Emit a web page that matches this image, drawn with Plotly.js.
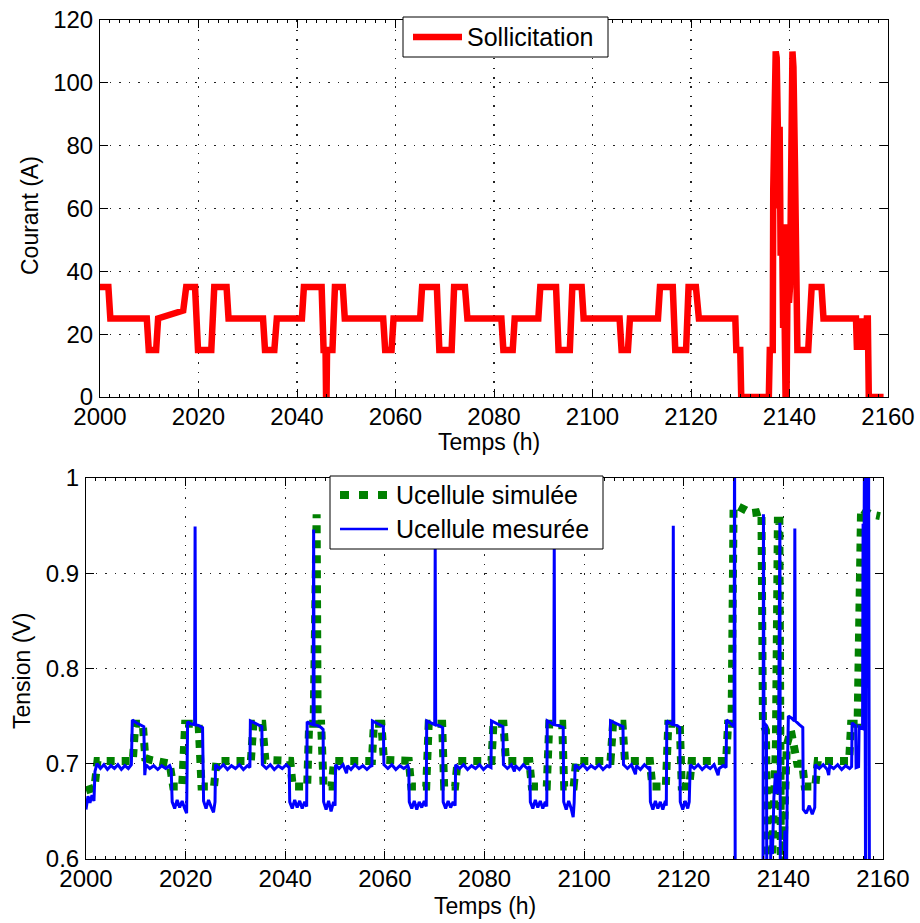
<!DOCTYPE html>
<html>
<head>
<meta charset="utf-8">
<script src="https://cdn.plot.ly/plotly-3.0.1.min.js"></script>
<style>html,body{margin:0;padding:0;background:#fff;}#chart{width:920px;height:923px;}</style>
</head>
<body>
<div id="chart"></div>
<script>
// ---------- Data ----------
// Top: current solicitation (A) vs time (h)
const curT = [2000,2001.7,2002.1,2009.5,2009.9,2011.4,2011.8,2016.9,2017.5,2019.3,2019.9,2022.6,2023.2,2025.7,2026.1,2033.1,2033.5,2035.4,2035.9,2041.0,2041.4,2045.0,2045.4,2045.8,2045.9,2046.0,2046.1,2047.2,2047.7,2049.3,2049.7,2057.5,2057.9,2059.2,2059.6,2065.0,2065.4,2068.4,2068.9,2071.4,2071.9,2074.1,2074.6,2081.5,2081.9,2083.8,2084.2,2089.0,2089.4,2092.6,2093.1,2095.4,2095.9,2097.8,2098.2,2105.5,2105.9,2107.2,2107.6,2113.3,2113.7,2116.3,2116.8,2119.0,2119.5,2121.0,2121.6,2129.0,2129.2,2130.0,2130.2,2135.8,2136.0,2136.6,2136.7,2137.2,2137.4,2137.9,2138.0,2138.2,2138.5,2138.7,2138.9,2139.2,2139.4,2139.7,2139.9,2140.1,2140.3,2140.6,2140.8,2141.1,2141.4,2141.6,2143.8,2144.0,2144.2,2144.5,2146.5,2146.9,2153.5,2153.7,2154.0,2154.2,2154.5,2154.7,2155.1,2155.3,2155.7,2155.9,2156.1,2159.1];
const curA = [35,35,25,25,15,15,25,27.5,35,35,15,15,35,35,25,25,15,15,25,25,35,35,15,15,0,0,15,15,35,35,25,25,15,15,25,25,35,35,15,15,35,35,25,25,15,15,25,25,35,35,15,15,35,35,25,25,15,15,25,25,35,35,15,15,35,35,25,25,15,15,0,0,15,15,66,110,108,60,86,45,55,22,40,0,0,55,30,35,66,110,105,75,40,15,15,25,26,35,35,25,25,15,25,15,25,15,25,15,25,25,0,0];

// Bottom: simulated cell voltage (V)
const simT = [2000.0,2001.7,2002.3,2009.4,2009.9,2011.4,2011.9,2013.0,2016.8,2017.5,2019.3,2019.9,2022.6,2023.2,2025.7,2026.2,2033.1,2033.6,2035.4,2036.0,2041.0,2041.5,2044.4,2044.8,2045.7,2045.9,2046.3,2046.5,2047.2,2047.7,2049.3,2049.8,2057.4,2057.8,2059.3,2059.8,2064.8,2065.3,2068.3,2068.8,2071.5,2071.9,2074.1,2074.6,2081.4,2081.8,2083.8,2084.3,2089.0,2089.5,2092.5,2093.0,2095.6,2096.0,2097.9,2098.4,2105.3,2105.8,2107.7,2108.2,2113.2,2113.7,2116.4,2116.9,2119.2,2119.6,2121.1,2121.6,2128.5,2128.9,2129.6,2130.0,2131.0,2132.5,2133.5,2135.0,2135.6,2135.9,2136.5,2136.9,2137.6,2138.0,2138.5,2138.9,2139.2,2139.5,2139.9,2140.3,2140.7,2141.5,2142.2,2142.8,2143.8,2144.3,2146.4,2146.9,2153.2,2153.6,2154.9,2155.6,2156.5,2157.5,2159.4];
const simV = [0.672,0.675,0.703,0.703,0.742,0.742,0.706,0.704,0.700,0.676,0.676,0.742,0.742,0.676,0.676,0.703,0.703,0.742,0.742,0.704,0.703,0.676,0.676,0.742,0.742,0.962,0.962,0.742,0.742,0.676,0.676,0.703,0.703,0.742,0.742,0.704,0.703,0.676,0.676,0.742,0.742,0.676,0.676,0.703,0.703,0.742,0.742,0.703,0.703,0.676,0.676,0.742,0.742,0.676,0.676,0.703,0.703,0.742,0.742,0.703,0.703,0.676,0.676,0.742,0.742,0.676,0.676,0.703,0.703,0.742,0.742,0.968,0.970,0.966,0.963,0.964,0.965,0.742,0.735,0.580,0.580,0.640,0.720,0.955,0.955,0.600,0.580,0.660,0.720,0.735,0.720,0.700,0.700,0.676,0.676,0.703,0.703,0.742,0.742,0.968,0.965,0.962,0.960];

// Bottom: measured cell voltage (V)
const mesT = [2000.0,2000.4,2000.8,2001.2,2001.6,2001.8,2002.2,2002.9,2003.6,2004.3,2005.0,2005.7,2006.4,2007.1,2007.8,2008.5,2009.1,2009.3,2010.1,2010.9,2011.6,2011.8,2012.0,2012.8,2013.6,2014.4,2015.2,2016.0,2016.8,2017.1,2017.3,2017.8,2018.3,2018.8,2019.3,2019.8,2020.2,2020.4,2021.0,2021.8,2021.9,2022.0,2022.7,2023.4,2023.6,2024.1,2024.6,2025.1,2025.6,2025.9,2026.0,2026.8,2027.6,2028.4,2029.2,2030.0,2030.8,2031.6,2032.4,2032.9,2033.0,2033.8,2034.6,2035.3,2035.4,2036.2,2037.0,2037.8,2038.6,2039.4,2040.2,2040.8,2040.9,2041.4,2041.9,2042.4,2042.9,2043.4,2043.9,2044.3,2044.4,2045.0,2045.6,2045.7,2045.8,2046.5,2047.2,2047.6,2047.7,2048.2,2048.7,2049.2,2049.7,2050.0,2050.1,2050.8,2051.6,2052.3,2052.5,2053.2,2054.0,2054.8,2055.6,2056.4,2057.2,2057.4,2057.5,2058.3,2059.1,2059.7,2059.8,2060.6,2061.4,2062.2,2063.0,2063.8,2064.6,2064.8,2064.9,2065.4,2065.9,2066.4,2066.9,2067.4,2067.9,2068.3,2068.4,2069.2,2070.0,2070.1,2070.2,2070.9,2071.6,2071.7,2072.2,2072.7,2073.2,2073.7,2074.1,2074.2,2075.0,2075.8,2076.6,2077.4,2078.2,2079.0,2079.8,2080.6,2081.3,2081.4,2082.2,2083.0,2083.7,2083.8,2084.6,2085.4,2086.0,2086.2,2087.0,2087.8,2088.6,2089.1,2089.2,2089.7,2090.2,2090.7,2091.2,2091.7,2092.2,2092.5,2092.6,2093.3,2093.9,2094.0,2094.1,2094.9,2095.8,2095.9,2096.4,2096.9,2097.4,2097.8,2098.0,2098.2,2099.0,2099.8,2100.6,2101.4,2102.2,2103.0,2103.8,2104.6,2105.2,2105.3,2106.1,2106.9,2107.8,2107.9,2108.7,2109.5,2110.3,2110.5,2111.3,2112.1,2112.9,2113.2,2113.3,2113.8,2114.3,2114.8,2115.3,2115.8,2116.3,2116.5,2116.6,2117.2,2117.8,2117.9,2118.0,2118.7,2119.2,2119.3,2119.8,2120.3,2120.8,2121.1,2121.3,2122.1,2122.9,2123.7,2124.5,2125.3,2126.1,2126.9,2127.1,2127.9,2128.5,2128.6,2129.4,2130.1,2130.2,2130.35,2135.9,2136.0,2136.1,2136.6,2136.7,2137.3,2137.5,2137.8,2138.1,2138.4,2138.7,2139.0,2139.3,2139.4,2140.0,2140.3,2140.5,2140.8,2141.0,2141.6,2142.2,2142.3,2142.4,2143.2,2143.9,2144.0,2144.6,2145.2,2145.8,2146.3,2146.4,2147.2,2148.0,2148.8,2149.1,2149.3,2150.1,2150.9,2151.7,2152.5,2153.3,2153.7,2153.8,2154.5,2154.6,2155.1,2155.2,2155.9,2156.0,2156.1,2156.3,2156.5,2156.7,2156.9,2157.1,2157.3];
const mesV = [0.652,0.666,0.659,0.667,0.661,0.692,0.700,0.695,0.699,0.694,0.698,0.695,0.699,0.694,0.698,0.695,0.699,0.746,0.743,0.741,0.739,0.688,0.699,0.695,0.698,0.694,0.698,0.695,0.698,0.694,0.660,0.653,0.662,0.654,0.661,0.653,0.648,0.744,0.742,0.741,0.949,0.741,0.740,0.738,0.661,0.653,0.662,0.655,0.649,0.660,0.699,0.695,0.699,0.694,0.698,0.695,0.699,0.694,0.698,0.696,0.745,0.743,0.741,0.739,0.699,0.695,0.699,0.694,0.698,0.695,0.699,0.696,0.660,0.653,0.662,0.654,0.661,0.653,0.660,0.655,0.744,0.742,0.741,0.946,0.741,0.740,0.738,0.736,0.660,0.652,0.661,0.650,0.660,0.656,0.699,0.695,0.699,0.690,0.698,0.694,0.699,0.695,0.698,0.694,0.698,0.697,0.745,0.743,0.741,0.739,0.699,0.695,0.699,0.694,0.698,0.695,0.698,0.695,0.660,0.653,0.661,0.652,0.660,0.654,0.661,0.655,0.745,0.743,0.741,0.928,0.741,0.740,0.738,0.660,0.653,0.661,0.654,0.660,0.656,0.699,0.695,0.699,0.694,0.698,0.695,0.699,0.694,0.698,0.696,0.745,0.743,0.741,0.739,0.699,0.695,0.699,0.692,0.698,0.694,0.699,0.695,0.697,0.660,0.653,0.662,0.654,0.661,0.653,0.660,0.655,0.745,0.743,0.741,0.928,0.741,0.740,0.738,0.660,0.652,0.661,0.653,0.644,0.659,0.699,0.695,0.699,0.694,0.698,0.695,0.699,0.694,0.698,0.696,0.745,0.743,0.741,0.739,0.699,0.695,0.699,0.689,0.698,0.694,0.699,0.695,0.697,0.660,0.652,0.661,0.653,0.660,0.652,0.661,0.656,0.745,0.743,0.741,0.950,0.741,0.740,0.738,0.660,0.652,0.661,0.653,0.660,0.699,0.695,0.699,0.694,0.698,0.695,0.699,0.688,0.695,0.698,0.696,0.746,0.742,0.739,1.050,0.500,0.500,0.962,0.743,0.740,0.500,0.500,0.625,0.605,0.665,0.690,0.668,0.692,0.953,0.500,0.500,0.630,0.500,0.690,0.750,0.748,0.745,0.947,0.745,0.741,0.738,0.652,0.648,0.656,0.647,0.654,0.699,0.695,0.699,0.694,0.688,0.698,0.695,0.699,0.694,0.698,0.695,0.697,0.743,0.740,0.696,0.697,0.739,0.737,0.952,0.820,1.050,0.550,1.050,0.850,1.050,0.500];

// Axes ticks / labels
const xTicks = [2000,2020,2040,2060,2080,2100,2120,2140,2160];
const yTicksTop = [0,20,40,60,80,100,120];
const yTicksBot = [0.6,0.7,0.8,0.9,1];
const yTickTextBot = ['0.6','0.7','0.8','0.9','1'];
const xTitle = 'Temps (h)';
const yTitleTop = 'Courant (A)';
const yTitleBot = 'Tension (V)';
const names = ['Sollicitation','Ucellule simulée','Ucellule mesurée'];

// ---------- Plot ----------
const W = 920, H = 923;
const FONT = 'Liberation Sans, Arial, Helvetica, sans-serif';
const FS = 24;   // tick labels
const TS = 23;   // axis titles
const LS = 25;   // legend text
const px = v => v / W;
const py = v => 1 - v / H;
const RED = '#ff0000', GREEN = '#008000', BLUE = '#0000ff';

const traces = [
  {x: curT, y: curA, xaxis:'x', yaxis:'y', mode:'lines', name:names[0],
   line:{color:RED, width:6.5}},
  {x: simT, y: simV, xaxis:'x2', yaxis:'y2', mode:'lines', name:names[1],
   line:{color:GREEN, width:8, dash:'8px,7px'}},
  {x: mesT, y: mesV, xaxis:'x2', yaxis:'y2', mode:'lines', name:names[2],
   line:{color:BLUE, width:3}}
];

function axisCommon(){
  return {
    showline:true, linecolor:'#000', linewidth:1, mirror:'ticks',
    ticks:'inside', ticklen:8, tickwidth:1, tickcolor:'#000',
    showgrid:true, gridcolor:'#222', gridwidth:1.2, griddash:'1.5px,8px',
    zeroline:false, tickfont:{family:FONT, size:FS, color:'#000'},
    fixedrange:true
  };
}
const xMinor = {ticks:'inside', ticklen:3, tickcolor:'#000', dtick:2, showgrid:false};

const titleFont = {family:FONT, size:TS, color:'#000'};
const legFont = {family:FONT, size:LS, color:'#000'};

// Legend boxes drawn in page pixels (converted to paper fractions)
const shapes = [
  {type:'rect', xref:'paper', yref:'paper', x0:px(403), x1:px(608), y0:py(57), y1:py(17),
   fillcolor:'#fff', line:{color:'#000', width:1}, layer:'above'},
  {type:'line', xref:'paper', yref:'paper', x0:px(413), x1:px(462), y0:py(37), y1:py(37),
   line:{color:RED, width:6.5}, layer:'above'},
  {type:'rect', xref:'paper', yref:'paper', x0:px(330), x1:px(603), y0:py(549), y1:py(476),
   fillcolor:'#fff', line:{color:'#000', width:1}, layer:'above'},
  {type:'line', xref:'paper', yref:'paper', x0:px(340), x1:px(388), y0:py(495), y1:py(495),
   line:{color:GREEN, width:8, dash:'9px,10px'}, layer:'above'},
  {type:'line', xref:'paper', yref:'paper', x0:px(340), x1:px(388), y0:py(529), y1:py(529),
   line:{color:BLUE, width:2.3}, layer:'above'}
];

const annotations = [
  {text:xTitle, xref:'paper', yref:'paper', x:px(489), y:py(442), xanchor:'center', yanchor:'middle', showarrow:false, font:titleFont},
  {text:yTitleTop, xref:'paper', yref:'paper', x:px(30), y:py(216), xanchor:'center', yanchor:'middle', textangle:-90, showarrow:false, font:titleFont},
  {text:xTitle, xref:'paper', yref:'paper', x:px(485), y:py(906), xanchor:'center', yanchor:'middle', showarrow:false, font:titleFont},
  {text:yTitleBot, xref:'paper', yref:'paper', x:px(22), y:py(671), xanchor:'center', yanchor:'middle', textangle:-90, showarrow:false, font:titleFont},
  {text:names[0], xref:'paper', yref:'paper', x:px(466), y:py(37), xanchor:'left', yanchor:'middle', showarrow:false, font:legFont, borderpad:0},
  {text:names[1], xref:'paper', yref:'paper', x:px(395), y:py(495), xanchor:'left', yanchor:'middle', showarrow:false, font:legFont, borderpad:0},
  {text:names[2], xref:'paper', yref:'paper', x:px(395), y:py(529), xanchor:'left', yanchor:'middle', showarrow:false, font:legFont, borderpad:0}
];

const layout = {
  width:W, height:H, margin:{l:0,r:0,t:0,b:0},
  paper_bgcolor:'#fff', plot_bgcolor:'#fff',
  font:{family:FONT, size:FS, color:'#000'},
  showlegend:false,
  xaxis: Object.assign(axisCommon(), {
    domain:[px(100), px(888)], anchor:'y', range:[2000,2160],
    tickmode:'array', tickvals:xTicks, ticklabelstandoff:-2, minor:xMinor
  }),
  yaxis: Object.assign(axisCommon(), {
    domain:[py(397), py(20)], anchor:'x', range:[0,120],
    tickmode:'array', tickvals:yTicksTop, ticklabelstandoff:1
  }),
  xaxis2: Object.assign(axisCommon(), {
    domain:[px(86), px(883)], anchor:'y2', range:[2000,2160],
    tickmode:'array', tickvals:xTicks, ticklabelstandoff:-2, minor:xMinor
  }),
  yaxis2: Object.assign(axisCommon(), {
    domain:[py(859), py(478)], anchor:'x2', range:[0.6,1],
    tickmode:'array', tickvals:yTicksBot, ticktext:yTickTextBot, ticklabelstandoff:1
  }),
  shapes: shapes,
  annotations: annotations
};

Plotly.newPlot('chart', traces, layout, {displayModeBar:false, staticPlot:true});
</script>
</body>
</html>
